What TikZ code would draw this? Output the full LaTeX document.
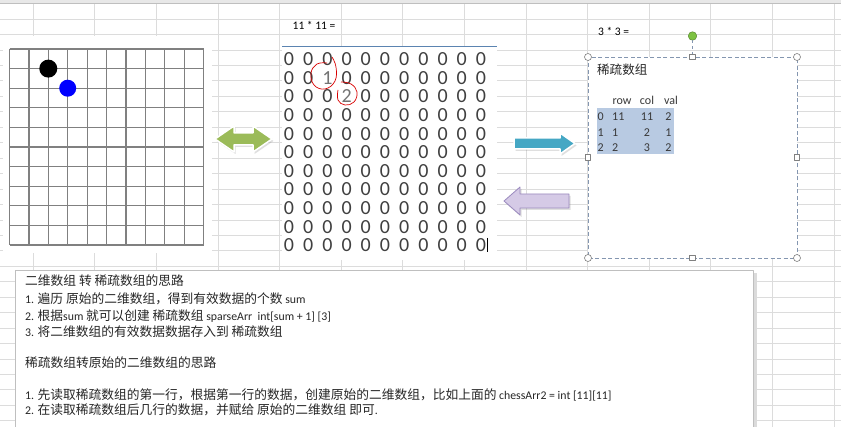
\documentclass[tikz,border=0pt]{standalone}
\usepackage{fontspec}
\setmainfont{Carlito}
\newfontfamily\cjk[Scale=1.08]{Noto Sans CJK SC}
\usepackage{xcolor}
\usetikzlibrary{shadows}
\definecolor{sheetline}{HTML}{DCDCDC}
\definecolor{rulecol}{HTML}{5B84B1}
\definecolor{boxline}{HTML}{8496B0}
\definecolor{selcol}{HTML}{B8CAE2}
\definecolor{olive}{HTML}{9BBB59}
\definecolor{aqua}{HTML}{45A7C4}
\definecolor{lilac}{HTML}{D5CAE6}
\definecolor{lilacline}{HTML}{9A89BE}
\definecolor{rot}{HTML}{7DC242}

\begin{document}
\begin{tikzpicture}[x=1pt,y=-1pt,line join=round,font=\fontsize{11.5}{13}\selectfont,
  sheet/.style={draw=sheetline,line width=0.6pt},
  board/.style={draw=black!50,line width=1.2pt},
  zero/.style={inner sep=0pt,font=\fontsize{20}{20}\selectfont,text=black!75},
  cell/.style={inner sep=0pt,anchor=base,font=\fontsize{12}{14}\selectfont,text=black!78},
  note/.style={inner sep=0pt,anchor=base west,font=\fontsize{11.8}{14}\selectfont,text=black!85},
  corner/.style={circle,draw=black!50,fill=white,inner sep=0pt,minimum size=7pt,line width=0.6pt},
  side/.style={rectangle,draw=black!50,fill=white,inner sep=0pt,minimum size=5.5pt,line width=0.6pt},
  marker/.style={red!85!black,line width=0.7pt},
  arrowshade/.style={drop shadow={opacity=0.25,shadow xshift=1.5pt,shadow yshift=-2pt}}]
\useasboundingbox (0,0) rectangle (841,427);
\fill[white] (0,0) rectangle (841,427);
% spreadsheet cells
\foreach \c in {0,...,13} \draw[sheet] (33+61.6*\c,0) -- (33+61.6*\c,427);
\foreach \r in {0,...,26} \draw[sheet] (0,19+15.45*\r) -- (841,19+15.45*\r);
\fill[black!9] (0,0) rectangle (841,3.5);
\draw[black!25] (0,3.5) -- (841,3.5);

% chess board
\fill[white] (3,36) rectangle (212,253);
\foreach \i in {0,...,10} {
  \draw[board] (9.5+19.4*\i,49) -- (9.5+19.4*\i,245);
  \draw[board] (9.5,49+19.6*\i) -- (203.5,49+19.6*\i);
}
\node[circle,fill=black,minimum size=18pt,inner sep=0pt] (stoneA) at (48.3,68.6) {};
\node[circle,fill=blue,minimum size=17pt,inner sep=0pt] (stoneB) at (67.7,88.2) {};

% arrows
\filldraw[fill=olive,draw=white,line width=1.5pt,arrowshade] (215,139) -- (234,126) -- (234,133) -- (253,133)
  -- (253,126) -- (272,139) -- (253,152) -- (253,145) -- (234,145) -- (234,152) -- cycle;
\filldraw[fill=aqua,draw=white,line width=1.5pt,arrowshade] (514,138) -- (560,138) -- (560,133) -- (575,143.5)
  -- (560,154) -- (560,149) -- (514,149) -- cycle;
\filldraw[fill=lilac,draw=lilacline,line width=0.8pt,arrowshade] (569,194) -- (520,194) -- (520,187) -- (504,201)
  -- (520,215) -- (520,208) -- (569,208) -- cycle;

% 11 x 11 array
\node[anchor=base west,inner sep=0pt] (bigtitle) at (292.5,29.5) {11 * 11 =};
\fill[white] (282,46) rectangle (497,260);
\draw[rulecol,line width=0.8pt] (282,46) -- (497,46);
\foreach \i in {0,...,10}
  \foreach \j in {0,...,10} {
    \pgfmathtruncatemacro\v{(\i==1)*(\j==2)+(\i==2)*(\j==3)*2}
    \node[zero] (z\i-\j) at (289+19.2*\j,59.3+18.6*\i) {\ifnum\v=0 0\else\textcolor{black!55}{\v}\fi};
  }
\draw[black,line width=0.7pt] (487,238) -- (487,252);
\draw[marker] plot[smooth,tension=0.7] coordinates {(332,57) (336,67) (335,81) (325,89) (314,85) (311,73) (317,64) (327,63)};
\draw[marker] plot[smooth,tension=0.7] coordinates {(341,82) (351,84) (357,92) (354,102) (345,105) (338,100) (338,90)};

% sparse array box
\node[anchor=base west,inner sep=0pt] (smalltitle) at (598,35.5) {3 * 3 =};
\fill[white] (588,57) rectangle (797,258);
\draw[boxline,line width=0.9pt,dash pattern=on 4pt off 2.5pt] (588,57) rectangle (797,258);
\node[circle,fill=rot,draw=rot!70!black,line width=0.5pt,inner sep=0pt,minimum size=8.5pt] (turn) at (692.5,36) {};
\node[side] (hn) at (692.5,57) {};
\draw[boxline,dashed,line width=0.7pt] (turn) -- (hn);
\node[side] (hs) at (692.5,258) {};
\node[side] (hw) at (588,157.5) {};
\node[side] (he) at (797,157.5) {};
\node[corner] (hnw) at (588,57) {};
\node[corner] (hne) at (797,57) {};
\node[corner] (hsw) at (588,258) {};
\node[corner] (hse) at (797,258) {};
\node[anchor=base west,inner sep=0pt,font=\cjk\fontsize{11.6}{14}\selectfont,text=black!85] (sparsename) at (597,75) {稀疏数组};
\fill[selcol] (597,108) rectangle (674,154);
\node[cell] (hrow) at (622,105) {row};
\node[cell] (hcol) at (647,105) {col};
\node[cell] (hval) at (671,105) {val};
\node[cell,anchor=base west] (r0) at (597.5,121) {0};
\node[cell,anchor=base west] (r0a) at (612,121) {11};
\node[cell] (r0b) at (647,121) {11};
\node[cell] (r0c) at (668.5,121) {2};
\node[cell,anchor=base west] (r1) at (597.5,136.5) {1};
\node[cell,anchor=base west] (r1a) at (612,136.5) {1};
\node[cell] (r1b) at (647,136.5) {2};
\node[cell] (r1c) at (668.5,136.5) {1};
\node[cell,anchor=base west] (r2) at (597.5,152) {2};
\node[cell,anchor=base west] (r2a) at (612,152) {2};
\node[cell] (r2b) at (647,152) {3};
\node[cell] (r2c) at (668.5,152) {2};

% notes box
\fill[black!14] (18,273) rectangle (757,430);
\filldraw[fill=white,draw=black!25,line width=0.6pt] (15,270) rectangle (753,432);
\node[note] (n1) at (25,285.5) {\cjk 二维数组 转 稀疏数组的思路};
\node[note] (n2) at (25,303.5) {1. {\cjk 遍历 原始的二维数组，得到有效数据的个数} sum};
\node[note] (n3) at (25,321) {2. {\cjk 根据}sum {\cjk 就可以创建 稀疏数组} sparseArr\ \ int[sum + 1] [3]};
\node[note] (n4) at (25,336.5) {3. {\cjk 将二维数组的有效数据数据存入到 稀疏数组}};
\node[note] (n5) at (25,367.5) {\cjk 稀疏数组转原始的二维数组的思路};
\node[note] (n6) at (25,399.5) {1. {\cjk 先读取稀疏数组的第一行，根据第一行的数据，创建原始的二维数组，比如上面的} chessArr2 = int [11][11]};
\node[note] (n7) at (25,415) {2. {\cjk 在读取稀疏数组后几行的数据，并赋给 原始的二维数组 即可}.};
\end{tikzpicture}
\end{document}
